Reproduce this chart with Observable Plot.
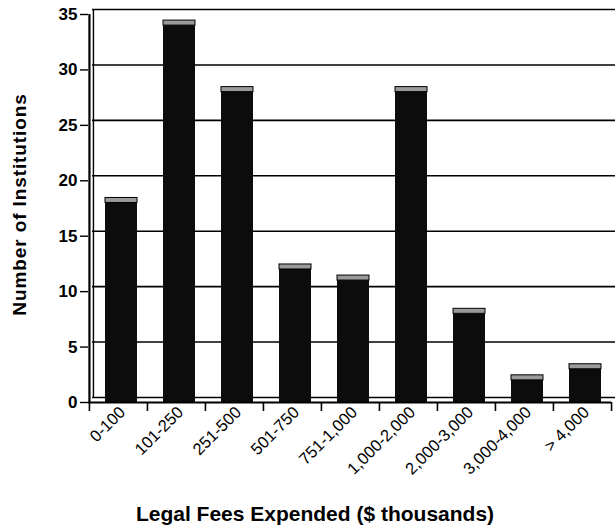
<!DOCTYPE html>
<html>
<head>
<meta charset="utf-8">
<script src="https://cdn.jsdelivr.net/npm/d3@7"></script>
<script src="https://cdn.jsdelivr.net/npm/@observablehq/plot@0.6"></script>
<style>
  html, body { margin: 0; padding: 0; background: #fff; }
  svg { display: block; }
  .y-title text { letter-spacing: 0.9px; }
</style>
</head>
<body>
<div id="chart"></div>
<script>
// Legal fee brackets ($ thousands) and how many institutions fall in each
const categories = ["0-100", "101-250", "251-500", "501-750", "751-1,000", "1,000-2,000", "2,000-3,000", "3,000-4,000", "> 4,000"];
const counts = [18, 34, 28, 12, 11, 28, 8, 2, 3];
const yTicks = [0, 5, 10, 15, 20, 25, 30, 35];

const rows = categories.map((category, i) => ({category, count: counts[i]}));

const width = 615, height = 528;
const marginLeft = 88, marginRight = 4, marginTop = 14, marginBottom = 126;
const step = (width - marginLeft - marginRight) / categories.length;
// depth of the pseudo-3D back wall
const depthX = 4, depthY = -5;
const font = "'Liberation Sans', Arial, Helvetica, sans-serif";

const chart = Plot.plot({
  width, height, marginLeft, marginRight, marginTop, marginBottom,
  style: {fontFamily: font, color: "#000", background: "#fff"},
  x: {domain: categories, paddingInner: 0.45, paddingOuter: 0.225, axis: null},
  y: {domain: [0, 35], axis: null},
  marks: [
    // back wall gridlines (the 0 line is the back edge of the floor)
    Plot.ruleY(yTicks, {stroke: "#000", strokeWidth: 1.6, dx: depthX, dy: depthY}),
    // back wall left edge
    Plot.ruleX([categories[0]], {y1: 0, y2: 35, dx: -step / 2 + depthX, dy: depthY, stroke: "#000", strokeWidth: 1.4}),
    // bars
    Plot.barY(rows, {x: "category", y: "count", fill: "#0c0c0c", dx: 3}),
    // bar tops
    Plot.barY(rows, {x: "category", y1: "count", y2: "count", insetTop: -5, fill: "#9a9a9a", stroke: "#000", strokeWidth: 1, dx: 3}),
    // front axis lines
    Plot.ruleY([0], {stroke: "#000", strokeWidth: 2.2}),
    Plot.ruleX([categories[0]], {y1: 0, y2: 35, dx: -step / 2, stroke: "#000", strokeWidth: 2.2}),
    // category boundary ticks
    Plot.ruleX(categories, {y1: 0, y2: 0, insetBottom: -9, dx: -step / 2, stroke: "#000", strokeWidth: 1.6}),
    Plot.ruleX([categories[categories.length - 1]], {y1: 0, y2: 0, insetBottom: -9, dx: step / 2, stroke: "#000", strokeWidth: 1.6}),
    // y axis
    Plot.axisY({ticks: yTicks, tickSize: 8, tickPadding: 3, fontSize: 17, fontWeight: "bold", strokeWidth: 1.4, label: null}),
    // x tick labels
    Plot.axisX({tickSize: 0, tickPadding: 7, tickRotate: -45, dx: 4, fontSize: 16.5, label: null}),
    // axis titles
    Plot.text(["Legal Fees Expended ($ thousands)"], {frameAnchor: "bottom", dy: 112, dx: -35, fontSize: 21, fontWeight: "bold", lineAnchor: "middle"}),
    Plot.text(["Number of Institutions"], {frameAnchor: "left", textAnchor: "middle", rotate: -90, dx: -69, dy: -4, fontSize: 19, fontWeight: "bold", lineAnchor: "middle", className: "y-title"})
  ]
});

document.getElementById("chart").append(chart);
</script>
</body>
</html>
